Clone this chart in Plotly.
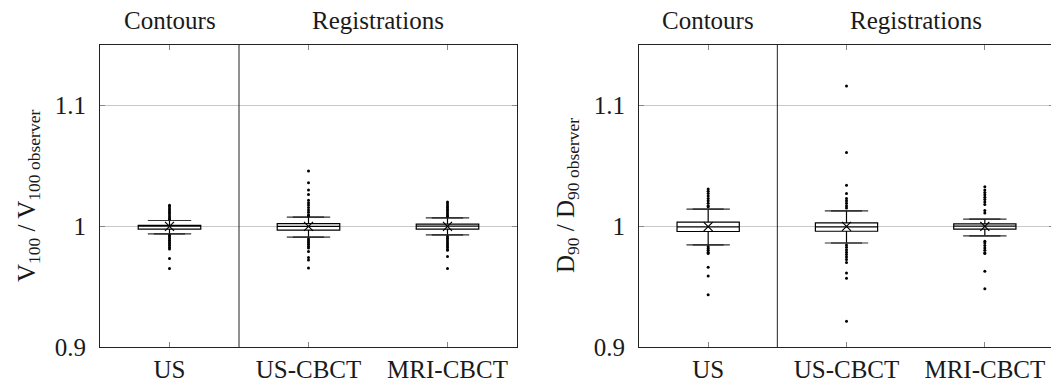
import plotly.graph_objects as go

categories = ["US", "US-CBCT", "MRI-CBCT"]

# Left panel: V100 / V100 observer
v_q1 = [0.9975, 0.9967, 0.9975]
v_median = [1.0, 0.9998, 1.0]
v_q3 = [1.0008, 1.0022, 1.0017]
v_low = [0.9936, 0.9909, 0.9928]
v_high = [1.0047, 1.0075, 1.0069]
v_mean = [0.9998, 0.9999, 0.9999]
v_out_us = [1.0174, 1.0160, 1.0145, 1.0130, 1.0115, 1.0100, 1.0085, 1.0070, 1.0058,
            0.9925, 0.9912, 0.9898, 0.9884, 0.9870, 0.9856, 0.9842, 0.9826, 0.9812, 0.9732, 0.9649]
v_out_uscbct = [1.0456, 1.0360, 1.0300, 1.0263, 1.0215, 1.0195, 1.0175, 1.0155, 1.0135, 1.0115, 1.0095, 1.0085,
                0.9895, 0.9880, 0.9865, 0.9850, 0.9835, 0.9820, 0.9790, 0.9740, 0.9720, 0.9654]
v_out_mricbct = [1.0200, 1.0185, 1.0170, 1.0155, 1.0140, 1.0125, 1.0110, 1.0095, 1.0082,
                 0.9915, 0.9900, 0.9885, 0.9870, 0.9855, 0.9840, 0.9825, 0.9810, 0.9800, 0.9750, 0.9650]

# Right panel: D90 / D90 observer
d_q1 = [0.9956, 0.9958, 0.9975]
d_median = [0.9995, 0.9995, 1.0]
d_q3 = [1.0033, 1.0027, 1.0019]
d_low = [0.9845, 0.9861, 0.9920]
d_high = [1.0141, 1.0127, 1.0058]
d_mean = [0.9997, 0.9998, 0.9999]
d_out_us = [1.0307, 1.0290, 1.0270, 1.0250, 1.0230, 1.0210, 1.0190, 1.0170, 1.0160,
            0.9830, 0.9815, 0.9800, 0.9785, 0.9773, 0.9660, 0.9588, 0.9433]
d_out_uscbct = [1.1160, 1.0611, 1.0338, 1.0270, 1.0230, 1.0210, 1.0190, 1.0170, 1.0150,
                0.9845, 0.9825, 0.9805, 0.9785, 0.9765, 0.9745, 0.9725, 0.9700, 0.9613, 0.9570, 0.9214]
d_out_mricbct = [1.0326, 1.0300, 1.0280, 1.0260, 1.0240, 1.0220, 1.0200, 1.0180, 1.0130, 1.0110,
                 0.9876, 0.9860, 0.9840, 0.9820, 0.9800, 0.9780, 0.9773, 0.9627, 0.9483]

y_ticks = [0.9, 1.0, 1.1]
y_tick_text = ["0.9", "1", "1.1"]
header_text = ["Contours", "Registrations"]
y_titles = ["V<sub>100</sub> / V<sub>100 observer</sub>", "D<sub>90</sub> / D<sub>90 observer</sub>"]

FONT = "Liberation Serif"
FS = 25
TXT = "#1a1a1a"
fig = go.Figure()

panels = [
    ("x", "y", v_q1, v_median, v_q3, v_low, v_high, v_mean, [v_out_us, v_out_uscbct, v_out_mricbct]),
    ("x2", "y2", d_q1, d_median, d_q3, d_low, d_high, d_mean, [d_out_us, d_out_uscbct, d_out_mricbct]),
]

for xa, ya, q1, med, q3, lo, hi, mn, outs in panels:
    fig.add_trace(go.Box(
        x=categories, q1=q1, median=med, q3=q3, lowerfence=lo, upperfence=hi,
        boxpoints=False, width=0.45, fillcolor="white",
        line=dict(color="black", width=1.2), xaxis=xa, yaxis=ya, showlegend=False,
        hoverinfo="skip"))
    # whisker caps
    fig.add_trace(go.Scatter(
        x=categories + categories, y=lo + hi, mode="markers",
        marker=dict(symbol="line-ew", size=31, color="#333", line=dict(color="#333", width=1.2)),
        xaxis=xa, yaxis=ya, showlegend=False, hoverinfo="skip"))
    # outliers
    ox, oy = [], []
    for c, vals in zip(categories, outs):
        ox += [c] * len(vals)
        oy += vals
    fig.add_trace(go.Scatter(
        x=ox, y=oy, mode="markers",
        marker=dict(symbol="circle", size=3, color="black", line=dict(width=0)),
        xaxis=xa, yaxis=ya, showlegend=False, hoverinfo="skip"))
    # mean markers
    fig.add_trace(go.Scatter(
        x=categories, y=mn, mode="markers",
        marker=dict(symbol="x-thin-open", size=9, color="black", line=dict(color="black", width=1.2)),
        xaxis=xa, yaxis=ya, showlegend=False, hoverinfo="skip"))

# The page places the figure 8 px in from the top-left corner (default body margin),
# so figure coordinates are screen coordinates minus 8.
W, H = 1059, 383
OFF = 8
def fx(px):
    return (px - OFF) / W
def fy(py):
    return (H - (py - OFF)) / H

xdoms = [[fx(100), fx(517)], [fx(639), fx(1054)]]
ydom = [fy(347), fy(45)]

axis_common_x = dict(
    type="category", categoryorder="array", categoryarray=categories,
    range=[-0.5, 2.5], showline=True, linecolor="#222", linewidth=1, mirror="ticks",
    ticks="inside", ticklen=5, tickcolor="#888", tickwidth=1, showgrid=False,
    tickfont=dict(family=FONT, size=FS, color=TXT), zeroline=False, automargin=False)
axis_common_y = dict(
    range=[0.9, 1.15], tickvals=y_ticks, ticktext=y_tick_text,
    showline=True, linecolor="#222", linewidth=1, mirror="ticks",
    ticks="inside", ticklen=5, tickcolor="#888", tickwidth=1,
    showgrid=True, gridcolor="#c8c8c8", gridwidth=1, zeroline=False,
    ticklabelstandoff=8,
    tickfont=dict(family=FONT, size=FS, color=TXT), automargin=False)

fig.update_layout(
    width=W, height=H, margin=dict(l=0, r=0, t=0, b=0),
    paper_bgcolor="white", plot_bgcolor="white", boxmode="overlay",
    xaxis=dict(domain=xdoms[0], anchor="y", **axis_common_x),
    xaxis2=dict(domain=xdoms[1], anchor="y2", **axis_common_x),
    yaxis=dict(domain=ydom, anchor="x", **axis_common_y),
    yaxis2=dict(domain=ydom, anchor="x2", **axis_common_y),
)

title_x = [fx(28), fx(567)]
for i, (xa, ya) in enumerate([("x", "y"), ("x2", "y2")]):
    # separator between contours and registrations
    fig.add_shape(type="line", xref=xa, yref=ya + " domain", x0=0.5, x1=0.5, y0=0, y1=1,
                  line=dict(color="#222", width=1))
    fig.add_annotation(x=0, y=fy(20), xref=xa, yref="paper", text=header_text[0],
                       showarrow=False, xanchor="center", yanchor="middle",
                       font=dict(family=FONT, size=FS, color=TXT))
    fig.add_annotation(x=1.5, y=fy(20), xref=xa, yref="paper", text=header_text[1],
                       showarrow=False, xanchor="center", yanchor="middle",
                       font=dict(family=FONT, size=FS, color=TXT))
    fig.add_annotation(x=title_x[i], y=fy(196), xref="paper", yref="paper",
                       text=y_titles[i], textangle=-90, showarrow=False,
                       xanchor="center", yanchor="middle",
                       font=dict(family=FONT, size=FS, color=TXT))

fig.write_html("out.html")
